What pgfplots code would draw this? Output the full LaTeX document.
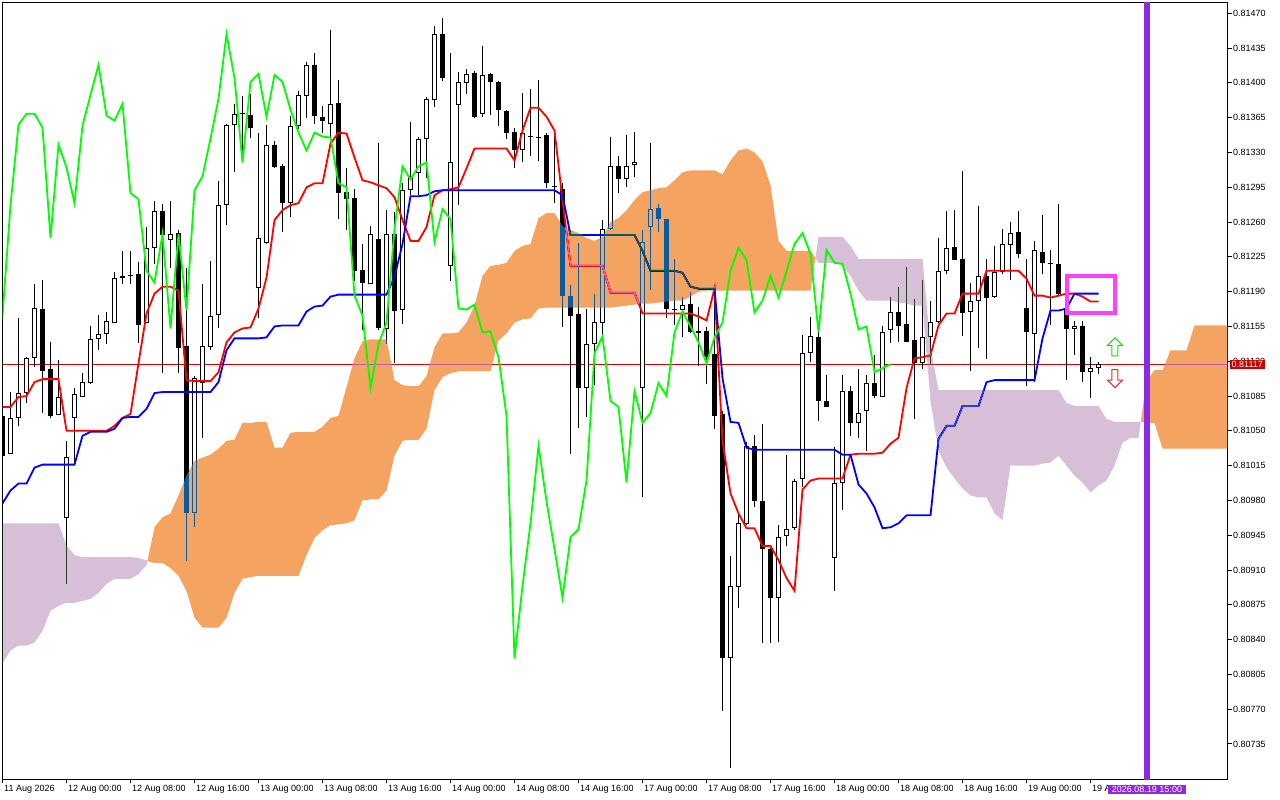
\documentclass[border=0pt]{standalone}
\usepackage{fontspec}
\setmainfont{Liberation Sans}
\usepackage{pgfplots}
\usepackage{pgfplotstable}
\pgfplotsset{compat=1.18}
\usetikzlibrary{shapes.arrows}

\definecolor{tenkan}{RGB}{255,0,0}
\definecolor{kijun}{RGB}{0,0,255}
\definecolor{chikou}{RGB}{0,255,0}
\definecolor{kumoup}{RGB}{11,91,159}   % gives sandy brown on white (difference)
\definecolor{kumodn}{RGB}{39,64,39}    % gives thistle on white (difference)
\definecolor{bidline}{RGB}{210,0,0}
\definecolor{bidbox}{RGB}{200,0,0}
\definecolor{nowline}{RGB}{138,43,226}
\definecolor{boxmag}{RGB}{255,64,255}
\definecolor{arrup}{RGB}{40,205,40}
\definecolor{arrdn}{RGB}{235,45,45}

% H1 candles, x = bar index
\pgfplotstableread{
x o h l c
0 0.81065 0.81070 0.81022 0.81025
1 0.81027 0.81089 0.81027 0.81063
2 0.81063 0.81164 0.81055 0.81088
3 0.81088 0.81124 0.81078 0.81123
4 0.81123 0.81198 0.81114 0.81174
5 0.81173 0.81202 0.81068 0.81110
6 0.81112 0.81139 0.81063 0.81065
7 0.81066 0.81121 0.81066 0.81084
8 0.80962 0.81040 0.80896 0.81024
9 0.81063 0.81093 0.81017 0.81087
10 0.81084 0.81108 0.81084 0.81099
11 0.81098 0.81155 0.81097 0.81142
12 0.81142 0.81167 0.81131 0.81147
13 0.81147 0.81170 0.81137 0.81160
14 0.81158 0.81210 0.81158 0.81204
15 0.81204 0.81231 0.81198 0.81206
16 0.81207 0.81231 0.81198 0.81206
17 0.81208 0.81220 0.81138 0.81156
18 0.81158 0.81255 0.81158 0.81234
19 0.81234 0.81281 0.81218 0.81271
20 0.81271 0.81278 0.81108 0.81247
21 0.81242 0.81281 0.81214 0.81248
22 0.81249 0.81252 0.81108 0.81133
23 0.81135 0.81214 0.80919 0.80967
24 0.80967 0.81105 0.80953 0.81103
25 0.81098 0.81198 0.81043 0.81135
26 0.81134 0.81221 0.81131 0.81166
27 0.81167 0.81301 0.81153 0.81277
28 0.81277 0.81359 0.81257 0.81358
29 0.81358 0.81379 0.81310 0.81369
30 0.81370 0.81387 0.81320 0.81369
31 0.81368 0.81389 0.81345 0.81355
32 0.81194 0.81350 0.81164 0.81244
33 0.81239 0.81358 0.81238 0.81338
34 0.81338 0.81342 0.81314 0.81315
35 0.81316 0.81318 0.81250 0.81279
36 0.81279 0.81367 0.81265 0.81357
37 0.81357 0.81392 0.81354 0.81388
38 0.81387 0.81421 0.81365 0.81418
39 0.81418 0.81430 0.81359 0.81367
40 0.81366 0.81377 0.81350 0.81362
41 0.81359 0.81453 0.81339 0.81379
42 0.81380 0.81403 0.81263 0.81289
43 0.81290 0.81314 0.81252 0.81283
44 0.81284 0.81293 0.81201 0.81211
45 0.81212 0.81238 0.81151 0.81199
46 0.81198 0.81256 0.81198 0.81248
47 0.81243 0.81340 0.81151 0.81153
48 0.81152 0.81272 0.81137 0.81248
49 0.81248 0.81270 0.81118 0.81171
50 0.81172 0.81299 0.81157 0.81292
51 0.81292 0.81361 0.81287 0.81306
52 0.81309 0.81346 0.81287 0.81344
53 0.81344 0.81386 0.81304 0.81384
54 0.81383 0.81457 0.81376 0.81449
55 0.81449 0.81465 0.81402 0.81405
56 0.81216 0.81430 0.81201 0.81320
57 0.81378 0.81411 0.81277 0.81401
58 0.81400 0.81414 0.81389 0.81409
59 0.81410 0.81412 0.81365 0.81366
60 0.81369 0.81437 0.81366 0.81408
61 0.81409 0.81410 0.81368 0.81401
62 0.81401 0.81402 0.81357 0.81373
63 0.81372 0.81373 0.81344 0.81350
64 0.81351 0.81355 0.81314 0.81332
65 0.81332 0.81390 0.81320 0.81350
66 0.81347 0.81394 0.81326 0.81346
67 0.81346 0.81403 0.81321 0.81345
68 0.81348 0.81350 0.81294 0.81299
69 0.81296 0.81350 0.81279 0.81295
70 0.81293 0.81299 0.81154 0.81186
71 0.81186 0.81197 0.81027 0.81166
72 0.81168 0.81239 0.81053 0.81093
73 0.81093 0.81173 0.81064 0.81137
74 0.81137 0.81188 0.81096 0.81159
75 0.81158 0.81262 0.81146 0.81253
76 0.81253 0.81346 0.81252 0.81316
77 0.81316 0.81326 0.81289 0.81303
78 0.81303 0.81348 0.81295 0.81316
79 0.81317 0.81351 0.81305 0.81320
80 0.81093 0.81252 0.80983 0.81240
81 0.81255 0.81340 0.81192 0.81273
82 0.81274 0.81278 0.81250 0.81263
83 0.81263 0.81263 0.81163 0.81173
84 0.81173 0.81223 0.81156 0.81172
85 0.81172 0.81185 0.81144 0.81177
86 0.81178 0.81190 0.81148 0.81149
87 0.81148 0.81175 0.81115 0.81150
88 0.81150 0.81154 0.81097 0.81124
89 0.81127 0.81181 0.81052 0.81065
90 0.81067 0.81070 0.80768 0.80821
91 0.80821 0.80924 0.80711 0.80894
92 0.80893 0.80965 0.80872 0.80957
93 0.80956 0.81039 0.80955 0.81035
94 0.81035 0.81046 0.80973 0.80979
95 0.80979 0.81057 0.80837 0.80931
96 0.80931 0.80932 0.80837 0.80882
97 0.80882 0.80955 0.80838 0.80943
98 0.80944 0.81026 0.80934 0.80951
99 0.80952 0.81002 0.80950 0.81000
100 0.81002 0.81146 0.80993 0.81128
101 0.81128 0.81165 0.81119 0.81145
102 0.81144 0.81150 0.81060 0.81080
103 0.81080 0.81106 0.81074 0.81074
104 0.80922 0.81034 0.80889 0.80998
105 0.80998 0.81106 0.80970 0.81090
106 0.81090 0.81095 0.81045 0.81058
107 0.81058 0.81112 0.81043 0.81068
108 0.81070 0.81106 0.81030 0.81098
109 0.81098 0.81126 0.81083 0.81085
110 0.81084 0.81155 0.81084 0.81149
111 0.81151 0.81185 0.81138 0.81170
112 0.81170 0.81195 0.81139 0.81155
113 0.81157 0.81215 0.81139 0.81139
114 0.81141 0.81183 0.81062 0.81118
115 0.81118 0.81202 0.81112 0.81144
116 0.81144 0.81181 0.81117 0.81159
117 0.81159 0.81244 0.81158 0.81211
118 0.81211 0.81271 0.81208 0.81234
119 0.81235 0.81272 0.81222 0.81222
120 0.81223 0.81311 0.81145 0.81169
121 0.81170 0.81199 0.81110 0.81181
122 0.81181 0.81276 0.81133 0.81206
123 0.81206 0.81223 0.81122 0.81184
124 0.81185 0.81236 0.81184 0.81210
125 0.81210 0.81253 0.81208 0.81238
126 0.81237 0.81260 0.81202 0.81249
127 0.81250 0.81271 0.81224 0.81228
128 0.81174 0.81223 0.81095 0.81149
129 0.81147 0.81241 0.81099 0.81232
130 0.81230 0.81267 0.81208 0.81219
131 0.81219 0.81232 0.81156 0.81218
132 0.81218 0.81278 0.81187 0.81188
133 0.81174 0.81188 0.81101 0.81152
134 0.81152 0.81160 0.81126 0.81155
135 0.81155 0.81160 0.81099 0.81109
136 0.81109 0.81124 0.81083 0.81113
137 0.81113 0.81119 0.81107 0.81117
}\candles

% Tenkan-sen (t) and Kijun-sen (k)
\pgfplotstableread{
x t k
0 0.81074 0.80977
1 0.81074 0.80990
2 0.81084 0.80997
3 0.81085 0.80997
4 0.81099 0.81013
5 0.81102 0.81016
6 0.81102 0.81016
7 0.81102 0.81016
8 0.81050 0.81016
9 0.81050 0.81016
10 0.81050 0.81045
11 0.81050 0.81049
12 0.81050 0.81049
13 0.81050 0.81049
14 0.81055 0.81052
15 0.81063 0.81063
16 0.81067 0.81064
17 0.81118 0.81064
18 0.81168 0.81072
19 0.81188 0.81088
20 0.81195 0.81089
21 0.81195 0.81089
22 0.81191 0.81089
23 0.81101 0.81089
24 0.81100 0.81089
25 0.81100 0.81089
26 0.81100 0.81089
27 0.81109 0.81099
28 0.81139 0.81131
29 0.81149 0.81143
30 0.81153 0.81143
31 0.81154 0.81143
32 0.81173 0.81143
33 0.81204 0.81144
34 0.81262 0.81155
35 0.81272 0.81156
36 0.81277 0.81156
37 0.81279 0.81156
38 0.81295 0.81170
39 0.81299 0.81175
40 0.81299 0.81176
41 0.81339 0.81185
42 0.81350 0.81187
43 0.81349 0.81187
44 0.81325 0.81187
45 0.81302 0.81187
46 0.81300 0.81187
47 0.81297 0.81187
48 0.81294 0.81187
49 0.81285 0.81205
50 0.81262 0.81238
51 0.81241 0.81286
52 0.81241 0.81286
53 0.81255 0.81287
54 0.81287 0.81291
55 0.81292 0.81292
56 0.81293 0.81292
57 0.81295 0.81292
58 0.81314 0.81292
59 0.81334 0.81292
60 0.81334 0.81292
61 0.81334 0.81292
62 0.81334 0.81292
63 0.81334 0.81292
64 0.81322 0.81292
65 0.81352 0.81292
66 0.81375 0.81292
67 0.81375 0.81292
68 0.81366 0.81292
69 0.81352 0.81292
70 0.81282 0.81287
71 0.81216 0.81247
72 0.81216 0.81247
73 0.81216 0.81247
74 0.81216 0.81247
75 0.81216 0.81247
76 0.81189 0.81247
77 0.81189 0.81247
78 0.81189 0.81247
79 0.81189 0.81247
80 0.81168 0.81231
81 0.81168 0.81211
82 0.81168 0.81211
83 0.81168 0.81211
84 0.81168 0.81211
85 0.81168 0.81209
86 0.81168 0.81195
87 0.81165 0.81193
88 0.81161 0.81193
89 0.81193 0.81193
90 0.81040 0.81103
91 0.80987 0.81059
92 0.80967 0.81058
93 0.80952 0.81033
94 0.80952 0.81031
95 0.80934 0.81031
96 0.80934 0.81031
97 0.80920 0.81031
98 0.80902 0.81031
99 0.80889 0.81031
100 0.80991 0.81031
101 0.81000 0.81031
102 0.81002 0.81031
103 0.81002 0.81031
104 0.81002 0.81031
105 0.81002 0.81026
106 0.81026 0.81026
107 0.81027 0.80996
108 0.81027 0.80987
109 0.81027 0.80973
110 0.81028 0.80952
111 0.81037 0.80953
112 0.81043 0.80957
113 0.81093 0.80965
114 0.81123 0.80965
115 0.81124 0.80965
116 0.81126 0.80965
117 0.81156 0.81042
118 0.81168 0.81055
119 0.81168 0.81055
120 0.81188 0.81075
121 0.81188 0.81075
122 0.81188 0.81075
123 0.81211 0.81099
124 0.81211 0.81101
125 0.81211 0.81101
126 0.81211 0.81101
127 0.81211 0.81101
128 0.81203 0.81101
129 0.81186 0.81101
130 0.81186 0.81143
131 0.81184 0.81171
132 0.81186 0.81171
133 0.81188 0.81173
134 0.81188 0.81188
135 0.81185 0.81188
136 0.81180 0.81188
137 0.81180 0.81188
}\lines

% Kumo pieces: span B / span A (shifted 26 bars ahead) as outlines,
% split where the two spans cross
\pgfplotstableread{
x y
0 0.80957
1 0.80957
2 0.80957
3 0.80957
4 0.80957
5 0.80957
6 0.80957
7 0.80957
8 0.80935
9 0.80925
10 0.80923
11 0.80923
12 0.80923
13 0.80923
14 0.80923
15 0.80923
16 0.80923
17 0.80922
18 0.80920
18.12 0.80919
18 0.80915
17 0.80906
16 0.80901
15 0.80901
14 0.80901
13 0.80896
12 0.80887
11 0.80881
10 0.80879
9 0.80877
8 0.80877
7 0.80874
6 0.80869
5 0.80849
4 0.80837
3 0.80834
2 0.80834
1 0.80829
0 0.80816
}\kumoDnA

\pgfplotstableread{
x y
18.12 0.80919
19 0.80953
20 0.80963
21 0.80967
22 0.80985
23 0.81005
24 0.81020
25 0.81023
26 0.81026
27 0.81032
28 0.81040
29 0.81041
30 0.81058
31 0.81058
32 0.81059
33 0.81059
34 0.81033
35 0.81033
36 0.81048
37 0.81049
38 0.81049
39 0.81049
40 0.81054
41 0.81063
42 0.81065
43 0.81094
44 0.81123
45 0.81140
46 0.81142
47 0.81142
48 0.81142
49 0.81101
50 0.81096
51 0.81095
52 0.81095
53 0.81105
54 0.81134
55 0.81148
56 0.81148
57 0.81149
58 0.81159
59 0.81176
60 0.81206
61 0.81216
62 0.81217
63 0.81219
64 0.81231
65 0.81236
66 0.81238
67 0.81264
68 0.81269
69 0.81269
70 0.81256
71 0.81252
72 0.81249
73 0.81244
74 0.81241
75 0.81245
76 0.81260
77 0.81264
78 0.81272
79 0.81282
80 0.81290
81 0.81292
82 0.81294
83 0.81295
84 0.81302
85 0.81310
86 0.81312
87 0.81312
88 0.81312
89 0.81312
90 0.81308
91 0.81322
92 0.81332
93 0.81334
94 0.81330
95 0.81321
96 0.81297
97 0.81241
98 0.81231
99 0.81231
100 0.81231
101 0.81231
101.61 0.81224
101 0.81191
100 0.81191
99 0.81191
98 0.81191
97 0.81191
96 0.81191
95 0.81191
94 0.81191
93 0.81191
92 0.81191
91 0.81191
90 0.81191
89 0.81191
88 0.81191
87 0.81190
86 0.81185
85 0.81181
84 0.81181
83 0.81180
82 0.81179
81 0.81178
80 0.81178
79 0.81177
78 0.81176
77 0.81175
76 0.81174
75 0.81174
74 0.81174
73 0.81174
72 0.81174
71 0.81174
70 0.81174
69 0.81174
68 0.81174
67 0.81173
66 0.81163
65 0.81162
64 0.81159
63 0.81148
62 0.81141
61 0.81110
60 0.81110
59 0.81110
58 0.81110
57 0.81110
56 0.81108
55 0.81104
54 0.81091
53 0.81052
52 0.81041
51 0.81041
50 0.81040
49 0.81025
48 0.80990
47 0.80981
46 0.80981
45 0.80980
44 0.80960
43 0.80957
42 0.80956
41 0.80955
40 0.80950
39 0.80942
38 0.80925
37 0.80904
36 0.80904
35 0.80904
34 0.80904
33 0.80904
32 0.80904
31 0.80903
30 0.80901
29 0.80887
28 0.80862
27 0.80852
26 0.80852
25 0.80852
24 0.80862
23 0.80889
22 0.80904
21 0.80912
20 0.80917
19 0.80917
}\kumoUpA

\pgfplotstableread{
x y
101.61 0.81224
102 0.81245
103 0.81245
104 0.81245
105 0.81245
106 0.81236
107 0.81223
108 0.81223
109 0.81223
110 0.81223
111 0.81223
112 0.81223
113 0.81223
114 0.81223
115 0.81223
116 0.81134
117 0.81091
118 0.81091
119 0.81091
120 0.81091
121 0.81091
122 0.81091
123 0.81091
124 0.81091
125 0.81091
126 0.81091
127 0.81091
128 0.81091
129 0.81091
130 0.81091
131 0.81091
132 0.81091
133 0.81078
134 0.81075
135 0.81075
136 0.81075
137 0.81075
138 0.81062
139 0.81059
140 0.81059
141 0.81059
142 0.81059
142.28 0.81059
142 0.81043
141 0.81043
140 0.81038
139 0.81015
138 0.81000
137 0.80995
136 0.80988
135 0.80998
134 0.81005
133 0.81015
132 0.81025
131 0.81018
130 0.81017
129 0.81015
128 0.81015
127 0.81015
126 0.81015
125 0.80960
124 0.80967
123 0.80983
122 0.80983
121 0.80985
120 0.80992
119 0.81002
118 0.81013
117 0.81030
116 0.81080
115 0.81176
114 0.81176
113 0.81178
112 0.81179
111 0.81181
110 0.81181
109 0.81181
108 0.81181
107 0.81191
106 0.81206
105 0.81216
104 0.81219
103 0.81219
102 0.81219
}\kumoDnB

\pgfplotstableread{
x y
142.28 0.81059
143 0.81100
144 0.81111
145 0.81111
146 0.81131
147 0.81131
148 0.81131
149 0.81156
150 0.81156
151 0.81156
152 0.81156
153 0.81156
154 0.81152
154 0.81032
153 0.81032
152 0.81032
151 0.81032
150 0.81032
149 0.81032
148 0.81032
147 0.81032
146 0.81032
145 0.81032
144 0.81058
143 0.81058
}\kumoUpB

\begin{document}
\begin{tikzpicture}
\fill[white] (0,0) rectangle (1280pt,800pt);
\useasboundingbox (0,0) rectangle (1280pt,800pt);
\begin{axis}[
  at={(2.5pt,20.5pt)}, anchor=south west,
  scale only axis, width=1225pt, height=777pt,
  xmin=0, xmax=153.125,
  ymin=0.8069927, ymax=0.8148089,
  axis line style={line width=1pt, black},
  tick align=outside,
  major tick length=4pt,
  major tick style={line width=1pt, black},
  xtick pos=left, ytick pos=right, yticklabel pos=right,
  xtick={0,8,16,24,32,40,48,56,64,72,80,88,96,104,112,120,128,136},
  xticklabels={11 Aug 2026,12 Aug 00:00,12 Aug 08:00,12 Aug 16:00,13 Aug 00:00,13 Aug 08:00,13 Aug 16:00,14 Aug 00:00,14 Aug 08:00,14 Aug 16:00,17 Aug 00:00,17 Aug 08:00,17 Aug 16:00,18 Aug 00:00,18 Aug 08:00,18 Aug 16:00,19 Aug 00:00,19 Aug 08:00},
  ytick={0.80735,0.80770,0.80805,0.80840,0.80875,0.80910,0.80945,0.80980,0.81015,0.81050,0.81085,0.81120,0.81155,0.81190,0.81225,0.81260,0.81295,0.81330,0.81365,0.81400,0.81435,0.81470},
  scaled y ticks=false,
  yticklabel style={/pgf/number format/fixed, /pgf/number format/fixed zerofill,
    /pgf/number format/precision=5, /pgf/number format/assume math mode=true},
  tick label style={font=\fontsize{9}{10}\selectfont, black},
  xticklabel style={anchor=north west, inner sep=0pt, xshift=1.5pt, yshift=-2pt},
  yticklabel style={anchor=west, inner sep=0pt, xshift=1.5pt},
  clip=true,
]
% bid line
\addplot[bidline, line width=1pt, forget plot] coordinates {(0,0.81117) (153.125,0.81117)};

% candle wicks
\addplot[draw=none, mark=none, forget plot,
  error bars/.cd, y dir=minus, y explicit, error mark=none,
  error bar style={draw=black, line width=1pt}]
  table[x=x, y=h, y error minus expr={\thisrow{h}-\thisrow{l}}] {\candles};
% candle bodies
\addplot[draw=none, mark=none, forget plot,
  error bars/.cd, y dir=minus, y explicit, error mark=none,
  error bar style={draw=black, line width=5pt}]
  table[x=x, y expr={max(\thisrow{o},\thisrow{c})},
        y error minus expr={abs(\thisrow{o}-\thisrow{c})}] {\candles};
% hollow inside of rising candles (one pixel in from the outline)
\addplot[draw=none, mark=none, forget plot,
  error bars/.cd, y dir=minus, y explicit, error mark=none,
  error bar style={draw=white, line width=3pt}]
  table[x=x, y expr={\thisrow{c}-0.00001},
        y error minus expr={max(\thisrow{c}-\thisrow{o}-0.00002,0)}] {\candles};

% tenkan / kijun
\addplot[tenkan, line width=1.8pt, forget plot] table[x=x, y=t] {\lines};
\addplot[kijun, line width=1.8pt, forget plot] table[x=x, y=k] {\lines};

% kumo
\addplot[fill=kumodn, draw=none, blend mode=difference, forget plot] table[x=x, y=y] {\kumoDnA};
\addplot[fill=kumoup, draw=none, blend mode=difference, forget plot] table[x=x, y=y] {\kumoUpA};
\addplot[fill=kumodn, draw=none, blend mode=difference, forget plot] table[x=x, y=y] {\kumoDnB};
\addplot[fill=kumoup, draw=none, blend mode=difference, forget plot] table[x=x, y=y] {\kumoUpB};

% chikou span = close shifted 26 bars back
\addplot[chikou, line width=1.8pt, forget plot]
  table[x expr={\thisrow{x}-26}, y=c] {\candles};

% current time line
\addplot[nowline, line width=5pt, forget plot] coordinates {(143.06,0.80699) (143.06,0.81481)};

% annotations
\draw[boxmag, line width=4pt] (axis cs:133.04,0.812055) rectangle (axis cs:139.09,0.811685);
\node[single arrow, draw=arrup, fill=white, line width=1pt, shape border rotate=90,
      minimum height=18pt, inner sep=2.5pt, single arrow head extend=4.5pt]
      at (axis cs:139.06,0.81133) {};
\node[single arrow, draw=arrdn, fill=white, line width=1pt, shape border rotate=270,
      minimum height=18pt, inner sep=2.5pt, single arrow head extend=4.5pt]
      at (axis cs:139.06,0.81104) {};

\coordinate (bidpos) at (axis cs:153.125,0.81117);
\coordinate (nowpos) at (axis cs:143.06,0.8069927);
\end{axis}
\node[anchor=west, fill=bidbox, text=white, inner xsep=2pt, inner ysep=1.5pt,
      font=\fontsize{9}{10}\selectfont, xshift=2pt] at (bidpos) {0.81117};
\node[anchor=north, fill=nowline, text=white, inner xsep=3.5pt, inner ysep=1.5pt,
      font=\fontsize{9}{10}\selectfont, yshift=-5pt] at (nowpos) {2026.08.19 15:00};
\end{tikzpicture}
\end{document}
